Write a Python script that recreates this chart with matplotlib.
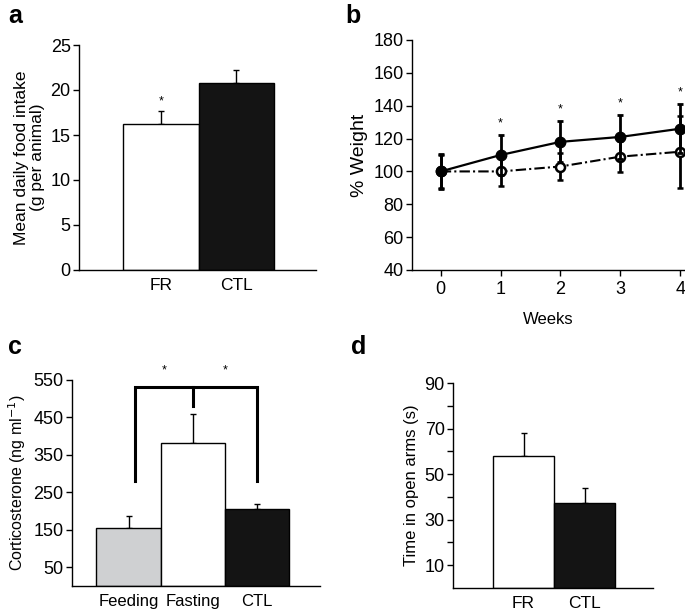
import matplotlib
matplotlib.use('Agg')
import matplotlib.pyplot as plt

plt.rcParams['font.family'] = ['Liberation Sans', 'DejaVu Sans']
plt.rcParams['font.size'] = 12
plt.rcParams['xtick.labelsize'] = 12.5
plt.rcParams['ytick.labelsize'] = 13

# panel a: food intake
a_groups = ['FR', 'CTL']
a_means = [16.2, 20.8]
a_err = [1.5, 1.4]

# panel b: weight over weeks
weeks = [0, 1, 2, 3, 4]
ctl_weight = [100, 110, 118, 121, 126]
ctl_err = [10.5, 12, 12.5, 13.5, 15]
fr_weight = [100, 100, 103, 109, 112]
fr_err = [10, 9, 8.5, 9.5, 22]
star_weeks = [1, 2, 3, 4]

# panel c: corticosterone
c_groups = ['Feeding', 'Fasting', 'CTL']
c_means = [155, 383, 205]
c_err = [33, 77, 15]

# panel d: open arms
d_groups = ['FR', 'CTL']
d_means = [58, 37.5]
d_err = [10, 6.5]

W, H = 685, 615
fig = plt.figure(figsize=(W / 100, H / 100), dpi=100)


def box(l, r, t, b):
    return [l / W, (H - b) / H, (r - l) / W, (b - t) / H]


def style_ax(ax):
    for s in ['top', 'right']:
        ax.spines[s].set_visible(False)
    for s in ['left', 'bottom']:
        ax.spines[s].set_linewidth(1.0)
    ax.tick_params(axis='y', direction='out', length=4, width=1, pad=2)
    ax.tick_params(axis='x', length=0, pad=6)


def bars(ax, means, errs, colors):
    x = list(range(len(means)))
    ax.bar(x, means, width=1.0, color=colors, edgecolor='black', linewidth=1.0, zorder=2)
    ax.errorbar(x, means, yerr=[[0] * len(errs), errs], fmt='none', ecolor='black',
                elinewidth=1.0, capsize=2, capthick=1.0, zorder=1)
    return x


# ---- a ----
ax = fig.add_axes(box(79, 316, 45, 270))
style_ax(ax)
x = bars(ax, a_means, a_err, ['white', '#141414'])
ax.set_xticks(x)
ax.set_xticklabels(a_groups)
ax.set_xlim(-1.08, 2.05)
ax.set_ylim(0, 25)
ax.set_yticks([0, 5, 10, 15, 20, 25])
ax.set_ylabel('Mean daily food intake\n(g per animal)', fontsize=12.5, linespacing=1.1)
ax.text(0, a_means[0] + a_err[0] + 0.4, '*', ha='center', va='bottom', fontsize=9)

# ---- b ----
ax = fig.add_axes(box(412, 685, 40, 270))
style_ax(ax)
ax.tick_params(axis='x', length=4, width=1, direction='out', pad=4, labelsize=13)
ax.errorbar(weeks, fr_weight, yerr=fr_err, fmt='o', ls=(0, (5, 1.5, 1, 1.5)), color='black',
            mfc='white', mec='black', mew=1.8, ms=6.5, lw=1.5, elinewidth=2.0,
            capsize=2, capthick=2, zorder=3)
ax.errorbar(weeks, ctl_weight, yerr=ctl_err, fmt='o-', color='black', ms=7.5, lw=1.6,
            elinewidth=2.0, capsize=2, capthick=2, zorder=4)
for w in star_weeks:
    ax.text(w, ctl_weight[w] + ctl_err[w] + 3.5, '*', ha='center', va='bottom', fontsize=9)
ax.set_xlim(-0.48, 4.08)
ax.set_ylim(40, 180)
ax.set_xticks(weeks)
ax.set_yticks(range(40, 181, 20))
ax.set_ylabel('% Weight', fontsize=14)
ax.set_xlabel('Weeks', labelpad=10)
for sp in ax.spines.values():
    sp.set_clip_on(False)

# ---- c ----
ax = fig.add_axes(box(72, 320, 380, 586))
style_ax(ax)
ax.tick_params(axis='x', labelsize=12)
x = bars(ax, c_means, c_err, ['#cfd0d2', 'white', '#141414'])
ax.set_xticks(x)
ax.set_xticklabels(c_groups)
ax.set_xlim(-0.88, 2.98)
ax.set_ylim(0, 550)
ax.set_yticks(range(50, 551, 100))
ax.set_ylabel('Corticosterone (ng ml$^{-1}$)', fontsize=11.5)
ax.plot([0.1, 0.1, 2, 2], [281, 531, 531, 281], color='black', lw=2.2, clip_on=False,
        solid_joinstyle='miter')
ax.plot([1, 1], [531, 480], color='black', lw=2.2, clip_on=False)
ax.text(0.55, 560, '*', ha='center', va='bottom', fontsize=9, clip_on=False)
ax.text(1.5, 560, '*', ha='center', va='bottom', fontsize=9, clip_on=False)

# ---- d ----
ax = fig.add_axes(box(453, 653, 383, 588))
style_ax(ax)
x = bars(ax, d_means, d_err, ['white', '#141414'])
ax.set_xticks(x)
ax.set_xticklabels(d_groups)
ax.set_xlim(-1.156, 2.12)
ax.set_ylim(0, 90)
ax.set_yticks([10, 30, 50, 70, 90])
ax.set_yticks([20, 40, 60, 80], minor=True)
ax.tick_params(axis='y', which='minor', direction='out', length=4, width=1)
ax.set_ylabel('Time in open arms (s)')

# panel letters
for lab, px, py in [('a', 8, 4), ('b', 345, 4), ('c', 8, 335), ('d', 351, 335)]:
    fig.text(px / W, 1 - py / H, lab, fontsize=18, fontweight='bold', ha='left', va='top')

fig.savefig('out.png', dpi=100)
